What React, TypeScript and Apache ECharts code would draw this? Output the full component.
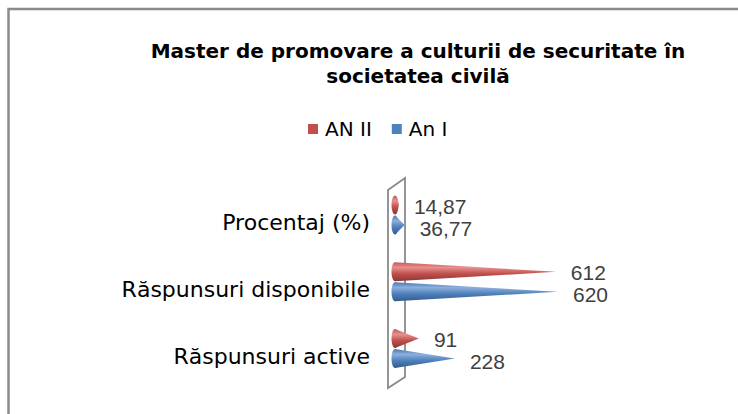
import React, { useEffect, useRef } from "react";
import * as echarts from "echarts";

const categories = ["Răspunsuri active", "Răspunsuri disponibile", "Procentaj (%)"];
const anII = [91, 612, 14.87];
const anI = [228, 620, 36.77];
const seriesNames = ["AN II", "An I"];
const titleText = "Master de promovare a culturii de securitate în\nsocietatea civilă";

const fmt = (v: number) => String(v).replace(".", ",");

function coneGradient(top: string, hi: string, mid: string, dark: string) {
  return new echarts.graphic.LinearGradient(0, 0, 0, 1, [
    { offset: 0, color: top },
    { offset: 0.28, color: hi },
    { offset: 0.6, color: mid },
    { offset: 1, color: dark },
  ]);
}

function makeRender(offset: number, labelDy: number, grad: () => any) {
  return (params: any, api: any) => {
    const v = api.value(0);
    const c = api.value(1);
    const p0 = api.coord([0, c]);
    const p1 = api.coord([v, c]);
    const y = p0[1] + offset;
    const x0 = p0[0];
    const h = 9.5;
    return {
      type: "group",
      children: [
        {
          type: "polygon",
          shape: { points: [[x0, y - h], [p1[0], y], [x0, y + h]] },
          style: { fill: grad() },
        },
        {
          type: "ellipse",
          shape: { cx: x0, cy: y, rx: 3.5, ry: h },
          style: { fill: grad() },
        },
        {
          type: "text",
          x: p1[0] + 15,
          y: y + labelDy,
          style: {
            text: fmt(v),
            align: "left",
            verticalAlign: "middle",
            fontSize: 21,
            lineHeight: 20,
            fontFamily: "Liberation Sans",
            fill: "#404040",
          },
        },
      ],
    };
  };
}

export default function App() {
  const ref = useRef<HTMLDivElement>(null);
  useEffect(() => {
    if (!ref.current) return;
    const chart = echarts.init(ref.current, null, { renderer: "svg" });
    const redGrad = () => coneGradient("#C65A57", "#E8908D", "#C0504D", "#8A3735");
    const blueGrad = () => coneGradient("#4A7AB5", "#8DB0DC", "#4F81BD", "#345A8A");
    chart.setOption({
      animation: false,
      backgroundColor: "#ffffff",
      title: {
        text: titleText,
        left: 413,
        top: 33,
        textAlign: "center",
        textStyle: {
          fontFamily: "DejaVu Sans",
          fontWeight: "bold",
          fontSize: 20,
          lineHeight: 25,
          color: "#000000",
        },
      },
      legend: {
        data: seriesNames,
        left: 303,
        top: 114,
        icon: "rect",
        itemWidth: 10,
        itemHeight: 10,
        itemGap: 20,
        textStyle: { fontFamily: "DejaVu Sans", fontSize: 20, color: "#000000", padding: [0, 0, 0, 2] },
      },
      graphic: [
        {
          type: "polyline",
          z: 0,
          shape: { points: [[8.5, 414], [8.5, 9], [738, 9]] },
          style: { stroke: "#8A8A8A", lineWidth: 2.5, fill: "none" },
        },
        {
          type: "polygon",
          z: 0,
          shape: { points: [[388, 190], [405, 178], [405, 377], [388, 388]] },
          style: { stroke: "#8A8A8A", lineWidth: 1.8, fill: "#ffffff" },
        },
      ],
      grid: { left: 395, top: 181.6, bottom: 32, width: 184 },
      xAxis: { type: "value", min: 0, max: 700, show: false },
      yAxis: {
        type: "category",
        data: categories,
        axisLine: { show: false },
        axisTick: { show: false },
        splitLine: { show: false },
        axisLabel: {
          fontFamily: "DejaVu Sans",
          fontSize: 22,
          color: "#000000",
          margin: 25,
          verticalAlign: "top",
          lineHeight: 15,
        },
      },
      series: [
        {
          name: seriesNames[0],
          type: "custom",
          z: 5,
          itemStyle: { color: "#C0504D" },
          renderItem: makeRender(-10, 1, redGrad),
          encode: { x: 0, y: 1 },
          data: anII.map((v, i) => [v, i]),
        },
        {
          name: seriesNames[1],
          type: "custom",
          z: 5,
          itemStyle: { color: "#4F81BD" },
          renderItem: makeRender(10, 3, blueGrad),
          encode: { x: 0, y: 1 },
          data: anI.map((v, i) => [v, i]),
        },
      ],
    });
    return () => chart.dispose();
  }, []);
  return (
    <div
      ref={ref}
      style={{ position: "fixed", left: 0, top: 0, width: 738, height: 414 }}
    />
  );
}
